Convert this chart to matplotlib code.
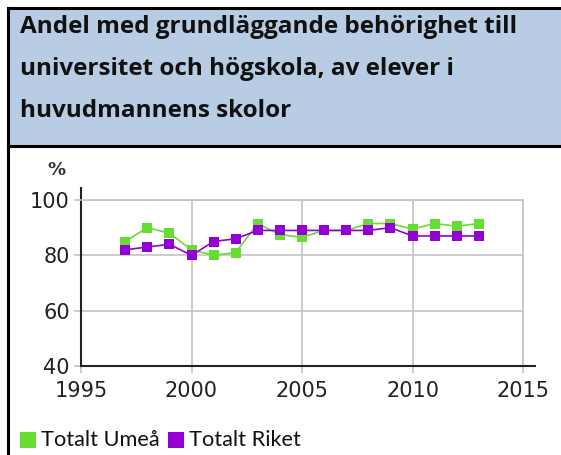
import matplotlib

matplotlib.use('Agg')
import matplotlib.pyplot as plt
from matplotlib.patches import Rectangle
from matplotlib.lines import Line2D

# data
years = list(range(1997, 2014))
umea = [85, 90, 88, 82, 80, 81, 91.5, 87.5, 86.5, 89, 89, 91.5, 91.5, 89.5, 91.5, 90.5, 91.5]
riket = [82, 83, 84, 80, 85, 86, 89, 89, 89, 89, 89, 89, 90, 87, 87, 87, 87]
series_names = ['Totalt Umeå', 'Totalt Riket']
series_colors = ['#66dd33', '#9400d3']
title_lines = ['Andel med grundläggande behörighet till',
               'universitet och högskola, av elever i',
               'huvudmannens skolor']
x_ticks = [1995, 2000, 2005, 2010, 2015]
y_ticks = [40, 60, 80, 100]

W, H = 561, 455
fig = plt.figure(figsize=(W / 100, H / 100), dpi=100)


def px(x, y):
    # pixel coords (from top-left) -> figure fraction
    return x / W, 1 - y / H


# header box and outer frame
fig.patches.append(Rectangle(px(8, 146), (W - 8) / W, 138 / H, transform=fig.transFigure,
                             facecolor='#b8cce4', edgecolor='none', zorder=0))
for xs, ys in [((8, 8), (8, 455)), ((8, 561), (8, 8)), ((8, 561), (146, 146))]:
    fig.lines.append(Line2D([x / W for x in xs], [1 - y / H for y in ys],
                            transform=fig.transFigure, color='black', linewidth=2.2))

for i, line in enumerate(title_lines):
    fx, fy = px(20, 33 + i * 42)
    fig.text(fx, fy, line, fontsize=17.5, fontweight='bold', family='Open Sans',
             ha='left', va='baseline', color='#111111')

# chart area
l, b = px(81, 366)
r, t = px(523, 200)
ax = fig.add_axes([l, b, r - l, t - b])

for vals, name, col in zip([umea, riket], series_names, series_colors):
    ax.plot(years, vals, color=col, linewidth=1.2, marker='s', markersize=7.5,
            markeredgewidth=0, label=name, clip_on=False)

ax.set_xlim(1995, 2015)
ax.set_ylim(40, 100)
ax.set_xticks(x_ticks)
ax.set_yticks(y_ticks)
ax.grid(True, color='#c4c4c4', linewidth=1.2)
ax.set_axisbelow(True)
for s in ['top', 'right']:
    ax.spines[s].set_color('#c4c4c4')
    ax.spines[s].set_linewidth(1.2)
for s in ['left', 'bottom']:
    ax.spines[s].set_color('#222222')
    ax.spines[s].set_linewidth(1.5)
ax.spines['bottom'].set_bounds(1995, 2015.55)
ax.spines['left'].set_bounds(40, 104.3)
ax.tick_params(axis='both', labelsize=15, colors='#c4c4c4', labelcolor='#222222',
               length=5, width=1.2)
ax.tick_params(axis='x', pad=6)
ax.tick_params(axis='y', pad=3)
ax.text(-0.056, 1.18, '%', transform=ax.transAxes, fontsize=13, fontweight='bold',
        color='#333333', ha='center', va='center')

# legend at bottom
for i, (name, col) in enumerate(zip(series_names, series_colors)):
    x0 = [20, 168][i]
    fig.patches.append(Rectangle(px(x0, 448), 16 / W, 16 / H, transform=fig.transFigure,
                                 facecolor=col, edgecolor='none'))
    fx, fy = px(x0 + 21, 446)
    fig.text(fx, fy, name, fontsize=15.7, family='Lato', ha='left', va='baseline',
             color='#111111')

fig.savefig('out.png', dpi=100)
